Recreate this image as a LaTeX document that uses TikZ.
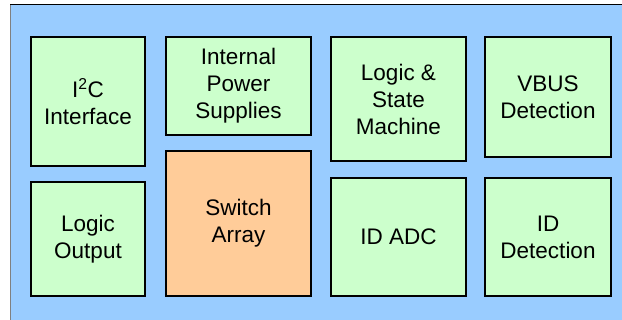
\documentclass[tikz,border=0pt]{standalone}
\usepackage{fontspec}
\setmainfont{Liberation Sans}
\definecolor{bgblue}{HTML}{99CCFF}
\definecolor{boxgreen}{HTML}{CCFFCC}
\definecolor{boxorange}{HTML}{FFCC99}
\begin{document}
\begin{tikzpicture}[x=1pt,y=-1pt,
  blk/.style={draw=black,line width=2pt,fill=boxgreen,inner sep=0pt,align=center,
    font=\fontsize{22.5}{27}\selectfont},
  sw/.style={blk,fill=boxorange}]
\useasboundingbox (0,0) rectangle (622,320);
\fill[bgblue] (10,5) rectangle (622,320);
\draw[black,line width=1pt] (10,5) -- (622,5);
\draw[gray,line width=1pt] (10,5) -- (10,320);
\node[blk,minimum width=114pt,minimum height=129pt] (i2c) at (88,101.5) {I\textsuperscript{2}C\\Interface};
\node[blk,minimum width=145pt,minimum height=98pt] (ips) at (238.5,86) {Internal\\Power\\Supplies};
\node[sw,minimum width=145pt,minimum height=145pt] (swa) at (238.5,223.5) {Switch\\Array};
\node[blk,minimum width=114pt,minimum height=114pt] (lout) at (88,239) {Logic\\Output};
\node[blk,minimum width=135pt,minimum height=124pt] (lsm) at (398.5,99) {Logic \&\\State\\Machine};
\node[blk,minimum width=126pt,minimum height=120pt] (vbus) at (548,97) {VBUS\\Detection};
\node[blk,minimum width=135pt,minimum height=118pt] (adc) at (398.5,237) {ID ADC};
\node[blk,minimum width=126pt,minimum height=118pt] (idd) at (548,237) {ID\\Detection};
\end{tikzpicture}
\end{document}
